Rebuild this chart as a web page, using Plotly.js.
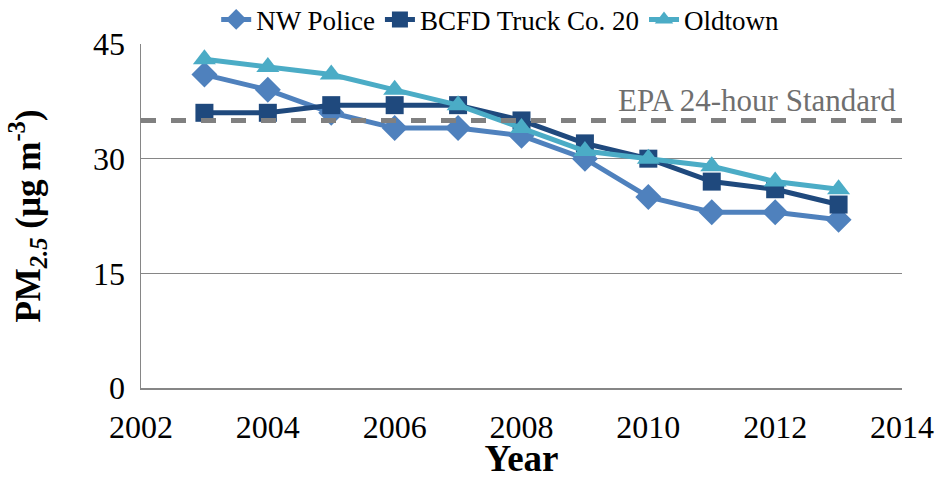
<!DOCTYPE html>
<html>
<head>
<meta charset="utf-8">
<script src="https://cdn.plot.ly/plotly-3.0.1.min.js"></script>
<style>
  body { margin: 0; background: #fff; }
  #chart { width: 940px; height: 479px; }
</style>
</head>
<body>
<div id="chart"></div>
<script>
// Annual PM2.5 at three monitoring sites
const years = [2003, 2004, 2005, 2006, 2007, 2008, 2009, 2010, 2011, 2012, 2013];
const nwPolice = [41, 39, 36, 34, 34, 33, 30, 25, 23, 23, 22];
const bcfdTruck = [36, 36, 37, 37, 37, 35, 32, 30, 27, 26, 24];
const oldtown = [43, 42, 41, 39, 37, 34, 31, 30, 29, 27, 26];
const epaStandard = 35;
const epaSpan = [2002, 2014];

const font = '"Liberation Serif", serif';

const traces = [
  {
    x: years, y: nwPolice, name: 'NW Police', type: 'scatter', mode: 'lines+markers',
    line: {color: '#4F81BD', width: 5},
    marker: {symbol: 'diamond', size: 20, color: '#4F81BD'}
  },
  {
    x: years, y: bcfdTruck, name: 'BCFD Truck Co. 20', type: 'scatter', mode: 'lines+markers',
    line: {color: '#1F497D', width: 5},
    marker: {symbol: 'square', size: 18, color: '#1F497D'}
  },
  {
    x: years, y: oldtown, name: 'Oldtown', type: 'scatter', mode: 'lines+markers',
    line: {color: '#4BACC6', width: 5},
    marker: {symbol: 'triangle-up', size: 20, color: '#4BACC6'}
  },
  {
    // EPA 24-hour standard
    x: epaSpan, y: [epaStandard, epaStandard], type: 'scatter', mode: 'lines',
    line: {color: '#808080', width: 5, dash: 'dash'},
    showlegend: false, hoverinfo: 'skip'
  }
];

const layout = {
  width: 940, height: 479,
  margin: {l: 141, r: 38, t: 44, b: 91, autoexpand: false},
  paper_bgcolor: '#fff', plot_bgcolor: '#fff',
  font: {family: font, size: 32, color: '#000'},
  showlegend: true,
  legend: {
    orientation: 'h', x: 0.472, xanchor: 'center', y: 1.07, yanchor: 'middle',
    font: {family: font, size: 27, color: '#000'}, traceorder: 'normal'
  },
  xaxis: {
    range: [2002, 2014], dtick: 2, tick0: 2002,
    showgrid: false, zeroline: false,
    showline: true, linecolor: '#868686', linewidth: 1.5,
    ticks: '', ticklabelstandoff: 10, tickfont: {family: font, size: 32, color: '#000'},
    title: {text: '<b>Year</b>', font: {family: font, size: 37}, standoff: 7}
  },
  yaxis: {
    range: [0, 45], dtick: 15,
    showgrid: true, gridcolor: '#868686', gridwidth: 1.5, zeroline: false,
    showline: true, linecolor: '#868686', linewidth: 1.5,
    ticks: '', ticklabelstandoff: 8, tickfont: {family: font, size: 32, color: '#000'},
    title: {text: '<b>PM<sub><i>2.5</i></sub> (µg m<sup>-3</sup>)</b>', font: {family: font, size: 35}, standoff: 42}
  },
  annotations: [{
    x: 2014, y: epaStandard, xref: 'x', yref: 'y', xanchor: 'right', yanchor: 'bottom',
    text: 'EPA 24-hour Standard', showarrow: false, xshift: -4, yshift: 0,
    font: {family: font, size: 31, color: '#6f6f6f'}
  }]
};

Plotly.newPlot('chart', traces, layout, {displayModeBar: false, staticPlot: true});
</script>
</body>
</html>
